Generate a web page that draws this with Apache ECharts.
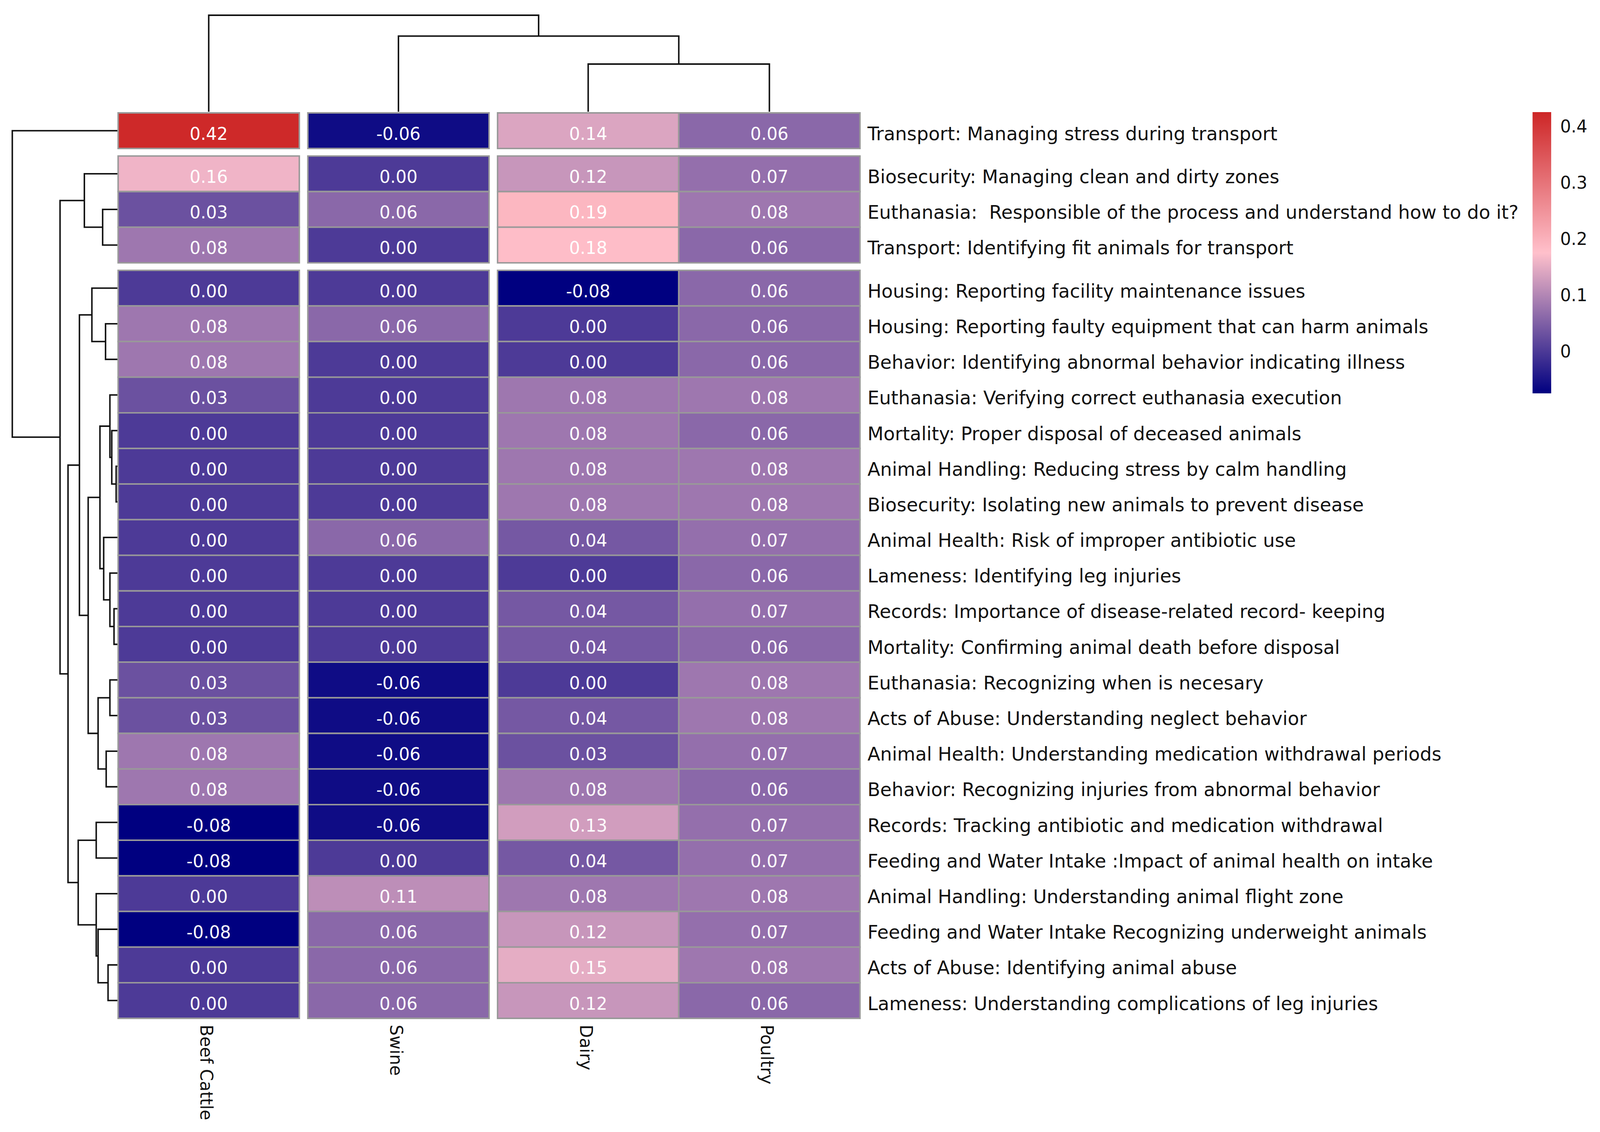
<!DOCTYPE html>
<html>
<head>
<meta charset="utf-8">
<title>Clustered heatmap</title>
<script src="https://cdn.jsdelivr.net/npm/echarts@6/dist/echarts.min.js"></script>
<style>
  html, body { margin: 0; padding: 0; background: #ffffff; overflow: hidden; }
  #chart { width: 100vw; height: 100vh; }
</style>
</head>
<body>
<div id="chart"></div>
<script>
(function () {
  // --- data ---
  var species = ['Beef Cattle', 'Swine', 'Dairy', 'Poultry'];
  var rowLabels = [
    'Transport: Managing stress during transport',
    'Biosecurity: Managing clean and dirty zones',
    'Euthanasia:  Responsible of the process and understand how to do it?',
    'Transport: Identifying fit animals for transport',
    'Housing: Reporting facility maintenance issues',
    'Housing: Reporting faulty equipment that can harm animals',
    'Behavior: Identifying abnormal behavior indicating illness',
    'Euthanasia: Verifying correct euthanasia execution',
    'Mortality: Proper disposal of deceased animals',
    'Animal Handling: Reducing stress by calm handling',
    'Biosecurity: Isolating new animals to prevent disease',
    'Animal Health: Risk of improper antibiotic use',
    'Lameness: Identifying leg injuries',
    'Records: Importance of disease-related record- keeping',
    'Mortality: Confirming animal death before disposal',
    'Euthanasia: Recognizing when is necesary',
    'Acts of Abuse: Understanding neglect behavior',
    'Animal Health: Understanding medication withdrawal periods',
    'Behavior: Recognizing injuries from abnormal behavior',
    'Records: Tracking antibiotic and medication withdrawal',
    'Feeding and Water Intake :Impact of animal health on intake',
    'Animal Handling: Understanding animal flight zone',
    'Feeding and Water Intake Recognizing underweight animals',
    'Acts of Abuse: Identifying animal abuse',
    'Lameness: Understanding complications of leg injuries'
  ];
  var beefCattle = [0.42, 0.16, 0.03, 0.08, 0.00, 0.08, 0.08, 0.03, 0.00, 0.00, 0.00, 0.00, 0.00,
                    0.00, 0.00, 0.03, 0.03, 0.08, 0.08, -0.08, -0.08, 0.00, -0.08, 0.00, 0.00];
  var swine = [-0.06, 0.00, 0.06, 0.00, 0.00, 0.06, 0.00, 0.00, 0.00, 0.00, 0.00, 0.06, 0.00,
               0.00, 0.00, -0.06, -0.06, -0.06, -0.06, -0.06, 0.00, 0.11, 0.06, 0.06, 0.06];
  var dairy = [0.14, 0.12, 0.19, 0.18, -0.08, 0.00, 0.00, 0.08, 0.08, 0.08, 0.08, 0.04, 0.00,
               0.04, 0.04, 0.00, 0.04, 0.03, 0.08, 0.13, 0.04, 0.08, 0.12, 0.15, 0.12];
  var poultry = [0.06, 0.07, 0.08, 0.06, 0.06, 0.06, 0.06, 0.08, 0.06, 0.08, 0.08, 0.07, 0.06,
                 0.07, 0.06, 0.08, 0.08, 0.07, 0.06, 0.07, 0.07, 0.08, 0.07, 0.08, 0.06];

  // hclust-style merges: negative = leaf (1-based display order), positive = earlier merge step
  var rowMerge = [
    [-10, -11, 3.3], [-14, -15, 9], [-9, 1, 15], [-8, 3, 20], [-13, 2, 20], [-16, -17, 20],
    [-24, -25, 25], [-18, -19, 30], [-6, -7, 31.7], [-12, 5, 36.7], [-3, -4, 39.5], [4, 10, 46.7],
    [6, 8, 51.7], [-23, 7, 51.7], [-20, -21, 56.7], [-22, 14, 56.7], [-5, 9, 68.3], [12, 13, 78.3],
    [-2, 11, 88.5], [17, 18, 101.7], [15, 16, 105], [20, 21, 132.3], [19, 22, 153.7], [-1, 23, 281.7]
  ];
  var colMerge = [[-3, -4, 122], [-2, 1, 193.6], [-1, 2, 247]];

  var rowGapsAfter = [1, 4];
  var colGapsAfter = [1, 2];
  var legendTicks = [0, 0.1, 0.2, 0.3, 0.4];
  var scaleMin = -0.075;
  var scaleMax = 0.425;

  // --- layout helpers (design size 4294 x 2898, scaled to the real page) ---
  var GAP_X = 0.047;
  var GAP_Y = 0.21;
  var FONT = '"DejaVu Sans", Verdana, sans-serif';
  var NAVY = '#000080', PINK = '#ffc0cb', RED = '#cd2626';
  var nRows = rowLabels.length, nCols = species.length;
  var xMax = nCols + colGapsAfter.length * GAP_X;
  var yMax = nRows + rowGapsAfter.length * GAP_Y;

  function start(idx, gapsAfter, gap) {
    var n = 0;
    gapsAfter.forEach(function (g) { if (idx >= g) n++; });
    return idx + n * gap;
  }

  function buildTree(merge, centre) {
    var nodes = [];
    merge.forEach(function (m) {
      var kids = [m[0], m[1]].map(function (k) {
        return k < 0 ? { c: centre(-k - 1), h: 0 } : nodes[k - 1];
      });
      nodes.push({ a: kids[0], b: kids[1], h: m[2], c: (kids[0].c + kids[1].c) / 2 });
    });
    return nodes;
  }

  var rowNodes = buildTree(rowMerge, function (i) { return start(i, rowGapsAfter, GAP_Y) + 0.5; });
  var colNodes = buildTree(colMerge, function (j) { return start(j, colGapsAfter, GAP_X) + 0.5; });

  var columns = [beefCattle, swine, dairy, poultry];
  var cells = [];
  columns.forEach(function (col, j) {
    col.forEach(function (v, i) { cells.push([j, i, v]); });
  });

  var chart = echarts.init(document.getElementById('chart'), null, { renderer: 'svg' });

  function build() {
    var sx = chart.getWidth() / 4294;
    var sy = chart.getHeight() / 2898;
    var s = Math.min(sx, sy);
    function box(l, t, w, h) { return { left: l * sx, top: t * sy, width: w * sx, height: h * sy }; }

    function treeItem(nodes, horizontal) {
      return function (params, api) {
        var n = nodes[api.value(0)];
        var pts = horizontal
          ? [[n.a.h, n.a.c], [n.h, n.a.c], [n.h, n.b.c], [n.b.h, n.b.c]]
          : [[n.a.c, n.a.h], [n.a.c, n.h], [n.b.c, n.h], [n.b.c, n.b.h]];
        return {
          type: 'polyline',
          shape: { points: pts.map(function (q) { return api.coord(q); }) },
          style: { stroke: '#111111', lineWidth: 4 * s, fill: null }
        };
      };
    }

    chart.setOption({
      animation: false,
      backgroundColor: '#ffffff',
      grid: [
        box(317, 289, 1991, 2318),
        box(33, 289, 282, 2318),
        box(317, 39, 1991, 247),
        box(4113, 287, 50, 720)
      ],
      xAxis: [
        { gridIndex: 0, type: 'value', min: 0, max: xMax, show: false },
        { gridIndex: 1, type: 'value', min: 0, max: 281.7, inverse: true, show: false },
        { gridIndex: 2, type: 'value', min: 0, max: xMax, show: false },
        { gridIndex: 3, type: 'value', min: 0, max: 1, show: false }
      ],
      yAxis: [
        { gridIndex: 0, type: 'value', min: 0, max: yMax, inverse: true, show: false },
        { gridIndex: 1, type: 'value', min: 0, max: yMax, inverse: true, show: false },
        { gridIndex: 2, type: 'value', min: 0, max: 247, show: false },
        {
          gridIndex: 3, type: 'value', min: scaleMin, max: scaleMax, position: 'right',
          axisLine: { show: false }, axisTick: { show: false }, splitLine: { show: false },
          axisLabel: {
            customValues: legendTicks, margin: 24 * s, fontSize: 46 * s, fontFamily: FONT, color: '#111111',
            formatter: function (v) { return String(v); }
          }
        }
      ],
      visualMap: {
        type: 'continuous', show: false, seriesIndex: 0, dimension: 2,
        min: scaleMin, max: scaleMax, inRange: { color: [NAVY, PINK, RED] }
      },
      series: [
        {
          // cells
          type: 'custom', xAxisIndex: 0, yAxisIndex: 0, data: cells,
          renderItem: function (params, api) {
            var x0 = start(api.value(0), colGapsAfter, GAP_X);
            var y0 = start(api.value(1), rowGapsAfter, GAP_Y);
            var p0 = api.coord([x0, y0]);
            var p1 = api.coord([x0 + 1, y0 + 1]);
            return {
              type: 'group',
              children: [{
                type: 'rect',
                shape: { x: p0[0], y: p0[1], width: p1[0] - p0[0], height: p1[1] - p0[1] },
                style: { fill: api.visual('color'), stroke: '#999999', lineWidth: 4 * s }
              }, {
                type: 'text',
                x: (p0[0] + p1[0]) / 2, y: (p0[1] + p1[1]) / 2 + 8 * s,
                style: {
                  text: api.value(2).toFixed(2), fill: '#ffffff', fontSize: 46 * s, fontFamily: FONT,
                  align: 'center', verticalAlign: 'middle'
                }
              }]
            };
          }
        },
        {
          // row labels
          type: 'custom', xAxisIndex: 0, yAxisIndex: 0,
          data: rowLabels.map(function (t, i) { return [i]; }),
          renderItem: function (params, api) {
            var i = api.value(0);
            var p = api.coord([xMax, start(i, rowGapsAfter, GAP_Y) + 0.5]);
            return {
              type: 'text', x: p[0] + 20 * s, y: p[1] + 8 * s,
              style: {
                text: rowLabels[i], fill: '#111111', fontSize: 50 * s, fontFamily: FONT,
                align: 'left', verticalAlign: 'middle'
              }
            };
          }
        },
        {
          // column labels
          type: 'custom', xAxisIndex: 0, yAxisIndex: 0,
          data: species.map(function (t, j) { return [j]; }),
          renderItem: function (params, api) {
            var j = api.value(0);
            var p = api.coord([start(j, colGapsAfter, GAP_X) + 0.5, yMax]);
            return {
              type: 'text', x: p[0] - 6 * s, y: p[1] + 17 * s, rotation: -Math.PI / 2,
              style: {
                text: species[j], fill: '#111111', fontSize: 46 * s, fontFamily: FONT,
                align: 'left', verticalAlign: 'middle'
              }
            };
          }
        },
        {
          // row dendrogram
          type: 'custom', xAxisIndex: 1, yAxisIndex: 1,
          data: rowNodes.map(function (n, k) { return [k]; }),
          renderItem: treeItem(rowNodes, true)
        },
        {
          // column dendrogram
          type: 'custom', xAxisIndex: 2, yAxisIndex: 2,
          data: colNodes.map(function (n, k) { return [k]; }),
          renderItem: treeItem(colNodes, false)
        },
        {
          // colour scale
          type: 'custom', xAxisIndex: 3, yAxisIndex: 3, data: [[0]],
          renderItem: function (params, api) {
            var p0 = api.coord([0, scaleMax]);
            var p1 = api.coord([1, scaleMin]);
            return {
              type: 'rect',
              shape: { x: p0[0], y: p0[1], width: p1[0] - p0[0], height: p1[1] - p0[1] },
              style: {
                fill: new echarts.graphic.LinearGradient(0, 0, 0, 1, [
                  { offset: 0, color: RED }, { offset: 0.5, color: PINK }, { offset: 1, color: NAVY }
                ])
              }
            };
          }
        }
      ]
    }, true);
  }

  build();
  window.addEventListener('resize', function () { chart.resize(); build(); });
})();
</script>
</body>
</html>
